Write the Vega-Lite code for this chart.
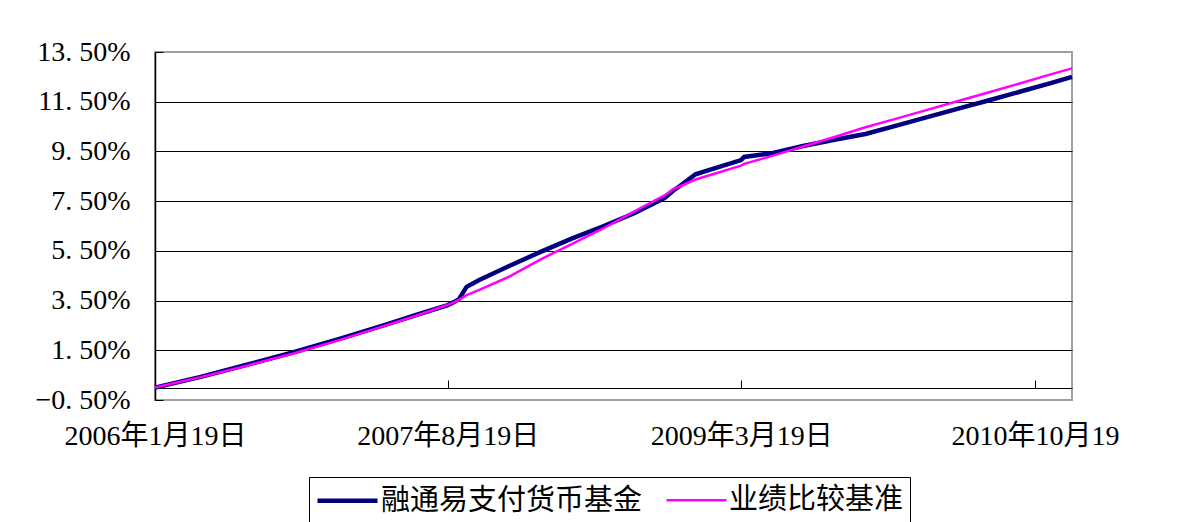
{
  "$schema": "https://vega.github.io/schema/vega-lite/v6.json",
  "width": 917,
  "height": 348,
  "autosize": {"type": "none"},
  "padding": {"left": 155, "top": 52, "right": 113, "bottom": 122},
  "background": "white",
  "config": {
    "view": {"stroke": "#a0a0a0", "strokeWidth": 2},
    "font": "Liberation Serif",
    "legend": {
      "orient": "none",
      "legendX": 154,
      "legendY": 425,
      "direction": "horizontal",
      "labelFont": "Noto Sans CJK SC",
      "labelFontSize": 29,
      "labelColor": "black",
      "labelLimit": 400,
      "labelOffset": 16,
      "symbolType": "M-2,0L2,0",
      "symbolSize": 900,
      "symbolOffset": 15,
      "strokeColor": "black",
      "fillColor": "white",
      "padding": 6,
      "columnPadding": 18
    }
  },
  "data": {
    "values": [
      {"date": "2006/01/19", "融通易支付货币基金": 0.0, "业绩比较基准": 0.0},
      {"date": "2006/04/19", "融通易支付货币基金": 0.43, "业绩比较基准": 0.42},
      {"date": "2006/07/19", "融通易支付货币基金": 0.92, "业绩比较基准": 0.88},
      {"date": "2006/10/19", "融通易支付货币基金": 1.42, "业绩比较基准": 1.37},
      {"date": "2007/01/19", "融通易支付货币基金": 1.97, "业绩比较基准": 1.92},
      {"date": "2007/04/19", "融通易支付货币基金": 2.53, "业绩比较基准": 2.5},
      {"date": "2007/06/19", "融通易支付货币基金": 2.93, "业绩比较基准": 2.9},
      {"date": "2007/08/19", "融通易支付货币基金": 3.32, "业绩比较基准": 3.33},
      {"date": "2007/09/01", "融通易支付货币基金": 3.45, "业绩比较基准": 3.44},
      {"date": "2007/09/10", "融通易支付货币基金": 3.56, "业绩比较基准": 3.53},
      {"date": "2007/09/25", "融通易支付货币基金": 4.05, "业绩比较基准": 3.72},
      {"date": "2007/10/19", "融通易支付货币基金": 4.32, "业绩比较基准": 3.92},
      {"date": "2007/12/19", "融通易支付货币基金": 4.9, "业绩比较基准": 4.47},
      {"date": "2008/02/19", "融通易支付货币基金": 5.47, "业绩比较基准": 5.17},
      {"date": "2008/04/19", "融通易支付货币基金": 5.99, "业绩比较基准": 5.77},
      {"date": "2008/06/19", "融通易支付货币基金": 6.48, "业绩比较基准": 6.39},
      {"date": "2008/08/19", "融通易支付货币基金": 7.0, "业绩比较基准": 7.07},
      {"date": "2008/10/19", "融通易支付货币基金": 7.62, "业绩比较基准": 7.73},
      {"date": "2008/11/05", "融通易支付货币基金": 7.92, "业绩比较基准": 7.98},
      {"date": "2008/11/19", "融通易支付货币基金": 8.12, "业绩比较基准": 8.1},
      {"date": "2008/12/19", "融通易支付货币基金": 8.58, "业绩比较基准": 8.37},
      {"date": "2009/01/19", "融通易支付货币基金": 8.78, "业绩比较基准": 8.56},
      {"date": "2009/03/19", "融通易支付货币基金": 9.15, "业绩比较基准": 8.93},
      {"date": "2009/03/25", "融通易支付货币基金": 9.28, "业绩比较基准": 9.0},
      {"date": "2009/05/19", "融通易支付货币基金": 9.43, "业绩比较基准": 9.32},
      {"date": "2009/07/19", "融通易支付货币基金": 9.72, "业绩比较基准": 9.7},
      {"date": "2009/09/19", "融通易支付货币基金": 9.97, "业绩比较基准": 10.08},
      {"date": "2009/11/19", "融通易支付货币基金": 10.2, "业绩比较基准": 10.47},
      {"date": "2010/01/19", "融通易支付货币基金": 10.54, "业绩比较基准": 10.82},
      {"date": "2010/03/19", "融通易支付货币基金": 10.87, "业绩比较基准": 11.16},
      {"date": "2010/05/19", "融通易支付货币基金": 11.21, "业绩比较基准": 11.52},
      {"date": "2010/07/19", "融通易支付货币基金": 11.55, "业绩比较基准": 11.87},
      {"date": "2010/09/19", "融通易支付货币基金": 11.9, "业绩比较基准": 12.23},
      {"date": "2010/11/19", "融通易支付货币基金": 12.25, "业绩比较基准": 12.6},
      {"date": "2010/12/31", "融通易支付货币基金": 12.5, "业绩比较基准": 12.84}
    ]
  },
  "transform": [
    {"fold": ["融通易支付货币基金", "业绩比较基准"], "as": ["series", "value"]}
  ],
  "encoding": {
    "x": {
      "field": "date",
      "type": "temporal",
      "scale": {"domain": [{"year": 2006, "month": 1, "date": 19}, {"year": 2010, "month": 12, "date": 31}]},
      "axis": {
        "values": [
          {"year": 2006, "month": 1, "date": 19},
          {"year": 2007, "month": 8, "date": 19},
          {"year": 2009, "month": 3, "date": 19},
          {"year": 2010, "month": 10, "date": 19}
        ],
        "labelExpr": "year(datum.value) == 2010 ? '2010年10月19' : timeFormat(datum.value, '%Y年%-m月%-d日')",
        "offset": -12,
        "domainColor": "black",
        "domainWidth": 1,
        "tickColor": "black",
        "tickSize": -8,
        "labelFont": "Liberation Serif, Noto Sans CJK SC",
        "labelFontSize": 28,
        "labelColor": "black",
        "labelPadding": 42,
        "labelLimit": 400,
        "labelFlush": false,
        "labelOverlap": false,
        "labelBound": false,
        "grid": false,
        "title": null
      }
    },
    "y": {
      "field": "value",
      "type": "quantitative",
      "scale": {"domain": [-0.5, 13.5], "nice": false, "zero": false},
      "axis": {
        "values": [-0.5, 1.5, 3.5, 5.5, 7.5, 9.5, 11.5, 13.5],
        "labelExpr": "replace(format(datum.value, '.2f'), '.', '. ') + '%'",
        "grid": true,
        "gridColor": {"condition": {"test": "datum.value == 13.5 || datum.value == -0.5", "value": "#a0a0a0"}, "value": "black"},
        "gridWidth": 1,
        "tickSize": -8,
        "tickColor": "black",
        "domainColor": "black",
        "domainWidth": 1.5,
        "labelFont": "Liberation Serif",
        "labelFontSize": 28,
        "labelColor": "black",
        "labelPadding": 33,
        "title": null
      }
    },
    "color": {
      "field": "series",
      "type": "nominal",
      "scale": {"domain": ["融通易支付货币基金", "业绩比较基准"], "range": ["#000080", "#FF00FF"]},
      "legend": {"title": null}
    },
    "strokeWidth": {
      "field": "series",
      "type": "nominal",
      "scale": {"type": "ordinal", "domain": ["融通易支付货币基金", "业绩比较基准"], "range": [4.5, 2.5]},
      "legend": {"title": null}
    }
  },
  "layer": [
    {"transform": [{"filter": "datum.series == '融通易支付货币基金'"}], "mark": {"type": "line"}},
    {"transform": [{"filter": "datum.series == '业绩比较基准'"}], "mark": {"type": "line"}}
  ]
}
